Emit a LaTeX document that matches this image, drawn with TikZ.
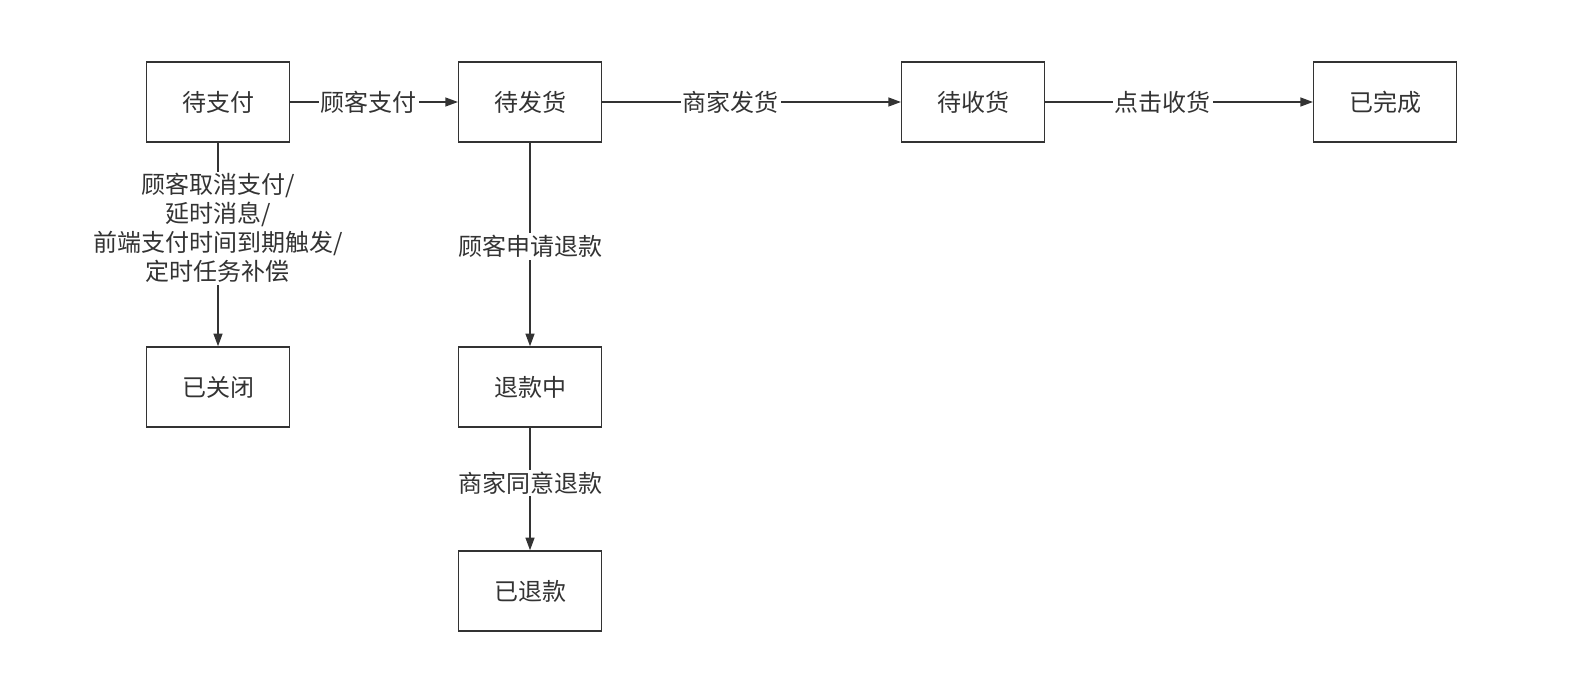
\documentclass[tikz,border=0pt]{standalone}
\usepackage{fontspec}
\setmainfont{Noto Sans CJK SC}
\usetikzlibrary{arrows.meta}
\definecolor{ink}{HTML}{333333}

\begin{document}
\begin{tikzpicture}[x=0.75pt, y=-0.75pt, line width=1.1pt, color=ink,
  state/.style={draw, minimum width=107pt, minimum height=60pt, inner sep=0pt,
    font=\fontsize{18}{21.75}\selectfont},
  tag/.style={fill=white, inner sep=1.5pt, align=center,
    font=\fontsize{18}{21.75}\selectfont},
  >={Triangle[length=9.5pt, width=6.75pt]}]
\useasboundingbox (0,0) rectangle (1579,699);

% order states
\node[state] (unpaid)    at (218,102)  {待支付};
\node[state] (toship)    at (530,102)  {待发货};
\node[state] (toreceive) at (973,102)  {待收货};
\node[state] (done)      at (1385,102) {已完成};
\node[state] (closed)    at (218,387)  {已关闭};
\node[state] (refunding) at (530,387)  {退款中};
\node[state] (refunded)  at (530,591)  {已退款};

% transitions
\draw[->] (unpaid) -- node[tag, pos=0.47] {顾客支付} (toship);
\draw[->] (toship) -- node[tag, pos=0.43] {商家发货} (toreceive);
\draw[->] (toreceive) -- node[tag, pos=0.44] {点击收货} (done);
\draw[->] (unpaid) -- node[tag, pos=0.42]
  {顾客取消支付/\\延时消息/\\前端支付时间到期触发/\\定时任务补偿} (closed);
\draw[->] (toship) -- node[tag, pos=0.51] {顾客申请退款} (refunding);
\draw[->] (refunding) -- node[tag, pos=0.45] {商家同意退款} (refunded);
\end{tikzpicture}
\end{document}
